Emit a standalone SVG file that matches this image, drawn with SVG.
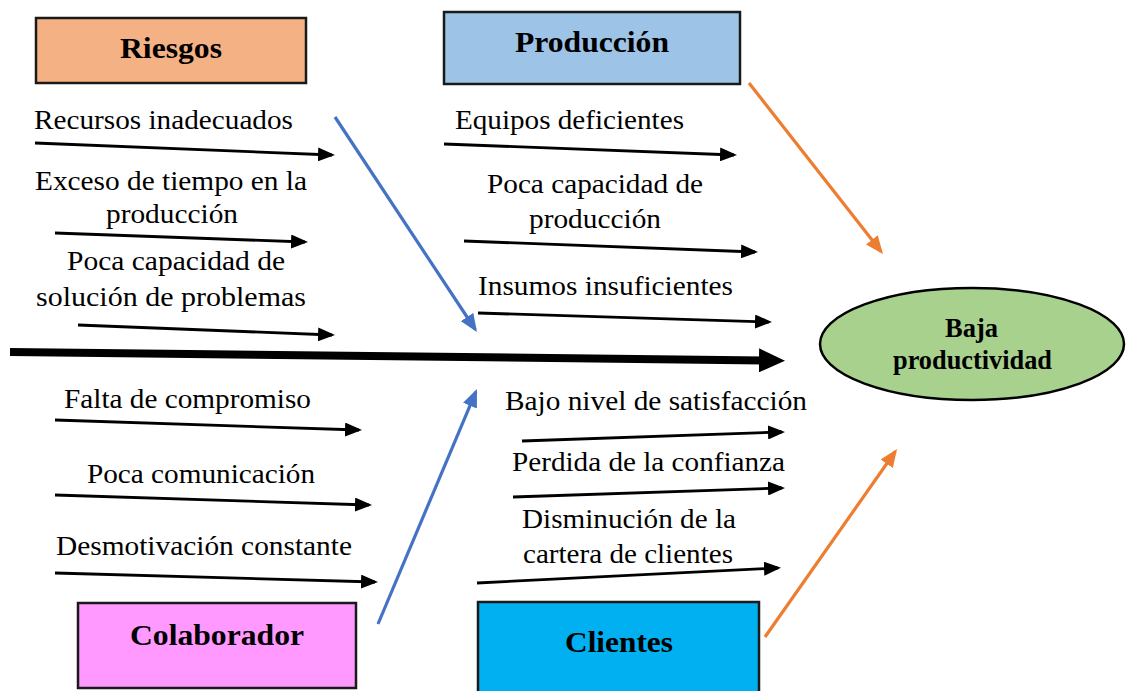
<svg xmlns="http://www.w3.org/2000/svg" width="1127" height="691" viewBox="0 0 1127 691">
<style>
.box{stroke:#1a1a1a;stroke-width:2.5}
.hd{font-family:"Liberation Serif","Times New Roman",serif;font-weight:bold;font-size:30px;fill:#000}
.lb{font-family:"Liberation Serif","Times New Roman",serif;font-size:28px;fill:#000}
.ef{font-family:"Liberation Serif","Times New Roman",serif;font-weight:bold;font-size:27px;fill:#000}
.ar{stroke:#000;stroke-width:2.8;fill:none;marker-end:url(#mk)}
.bl{stroke:#4472C4;stroke-width:3.2;fill:none;marker-end:url(#mb)}
.or{stroke:#ED7D31;stroke-width:3.2;fill:none;marker-end:url(#mo)}
.sp{stroke:#000;stroke-width:8;fill:none;marker-end:url(#ms)}
</style>
<defs>
<marker id="mk" markerUnits="userSpaceOnUse" markerWidth="18" markerHeight="14" refX="14" refY="7" orient="auto"><path d="M0,0 L17,7 L0,14 z" fill="#000"/></marker>
<marker id="mb" markerUnits="userSpaceOnUse" markerWidth="19" markerHeight="15" refX="15" refY="7.5" orient="auto"><path d="M0,0 L18,7.5 L0,15 z" fill="#4472C4"/></marker>
<marker id="mo" markerUnits="userSpaceOnUse" markerWidth="19" markerHeight="15" refX="15" refY="7.5" orient="auto"><path d="M0,0 L18,7.5 L0,15 z" fill="#ED7D31"/></marker>
<marker id="ms" markerUnits="userSpaceOnUse" markerWidth="26" markerHeight="24" refX="13" refY="12" orient="auto"><path d="M0,0 L26,12 L0,24 z" fill="#000"/></marker>
</defs>
<rect width="1127" height="691" fill="#fff"/>
<g id="connectors">
<line class="sp" x1="10" y1="352" x2="772" y2="360.5"/>
<line class="ar" x1="35" y1="143" x2="332" y2="155"/>
<line class="ar" x1="55" y1="233" x2="305" y2="242"/>
<line class="ar" x1="78" y1="325" x2="332" y2="335"/>
<line class="ar" x1="444" y1="144" x2="734" y2="155"/>
<line class="ar" x1="464" y1="241" x2="755" y2="252"/>
<line class="ar" x1="478" y1="313" x2="769" y2="322"/>
<line class="ar" x1="55" y1="420" x2="359" y2="430"/>
<line class="ar" x1="55" y1="495" x2="369" y2="505"/>
<line class="ar" x1="55" y1="573" x2="375" y2="582"/>
<line class="ar" x1="522" y1="441" x2="782" y2="432"/>
<line class="ar" x1="513" y1="497" x2="782" y2="488"/>
<line class="ar" x1="477" y1="583" x2="778" y2="568"/>
<line class="bl" x1="335" y1="117" x2="475.3" y2="329.5"/>
<line class="bl" x1="378" y1="624" x2="475.8" y2="391.8"/>
<line class="or" x1="749" y1="83" x2="881.1" y2="251.6"/>
<line class="or" x1="765" y1="637" x2="895.3" y2="451.5"/>
</g>
<g id="riesgos">
<rect class="box" x="36" y="18" width="270" height="65" fill="#F4B183"/>
<text class="hd" x="120" y="58" textLength="102" lengthAdjust="spacingAndGlyphs">Riesgos</text>
</g>
<g id="produccion">
<rect class="box" x="444" y="12" width="296" height="72" fill="#9DC3E6"/>
<text class="hd" x="515" y="52" textLength="154" lengthAdjust="spacingAndGlyphs">Producción</text>
</g>
<g id="colaborador">
<rect class="box" x="78" y="603" width="278" height="85" fill="#FF99FF"/>
<text class="hd" x="130" y="645" textLength="174" lengthAdjust="spacingAndGlyphs">Colaborador</text>
</g>
<g id="clientes">
<rect class="box" x="478" y="602" width="281" height="95" fill="#00B0F0"/>
<text class="hd" x="565" y="652" textLength="108" lengthAdjust="spacingAndGlyphs">Clientes</text>
</g>
<g id="efecto">
<ellipse cx="972" cy="344" rx="152" ry="56" fill="#A9D18E" stroke="#000" stroke-width="2.5"/>
<text class="ef" x="945" y="337" textLength="53" lengthAdjust="spacingAndGlyphs">Baja</text>
<text class="ef" x="893" y="369" textLength="159" lengthAdjust="spacingAndGlyphs">productividad</text>
</g>
<g id="causas">
<text class="lb" x="34" y="129" textLength="259" lengthAdjust="spacingAndGlyphs">Recursos inadecuados</text>
<text class="lb" x="35" y="190" textLength="272" lengthAdjust="spacingAndGlyphs">Exceso de tiempo en la</text>
<text class="lb" x="106" y="223" textLength="132" lengthAdjust="spacingAndGlyphs">producción</text>
<text class="lb" x="67" y="270" textLength="218" lengthAdjust="spacingAndGlyphs">Poca capacidad de</text>
<text class="lb" x="36" y="306" textLength="270" lengthAdjust="spacingAndGlyphs">solución de problemas</text>
<text class="lb" x="455" y="129" textLength="229" lengthAdjust="spacingAndGlyphs">Equipos deficientes</text>
<text class="lb" x="487" y="193" textLength="216" lengthAdjust="spacingAndGlyphs">Poca capacidad de</text>
<text class="lb" x="529" y="228" textLength="132" lengthAdjust="spacingAndGlyphs">producción</text>
<text class="lb" x="478" y="295" textLength="255" lengthAdjust="spacingAndGlyphs">Insumos insuficientes</text>
<text class="lb" x="64" y="408" textLength="247" lengthAdjust="spacingAndGlyphs">Falta de compromiso</text>
<text class="lb" x="87" y="483" textLength="228" lengthAdjust="spacingAndGlyphs">Poca comunicación</text>
<text class="lb" x="56" y="555" textLength="296" lengthAdjust="spacingAndGlyphs">Desmotivación constante</text>
<text class="lb" x="505" y="410" textLength="302" lengthAdjust="spacingAndGlyphs">Bajo nivel de satisfacción</text>
<text class="lb" x="512" y="471" textLength="273" lengthAdjust="spacingAndGlyphs">Perdida de la confianza</text>
<text class="lb" x="522" y="528" textLength="214" lengthAdjust="spacingAndGlyphs">Disminución de la</text>
<text class="lb" x="523" y="563" textLength="210" lengthAdjust="spacingAndGlyphs">cartera de clientes</text>
</g>
</svg>
